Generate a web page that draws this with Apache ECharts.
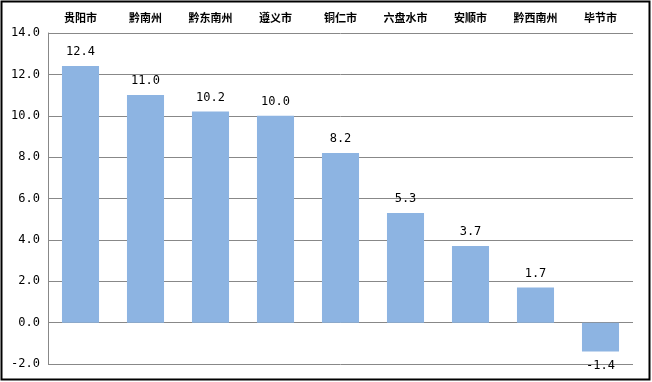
<!DOCTYPE html>
<html><head><meta charset="utf-8">
<script src="https://cdn.jsdelivr.net/npm/echarts@6/dist/echarts.min.js"></script>
<style>html,body{margin:0;padding:0;background:#fff}#c{width:652px;height:382px}</style>
</head><body><div id="c"></div>
<script>
const categories = ["贵阳市","黔南州","黔东南州","遵义市","铜仁市","六盘水市","安顺市","黔西南州","毕节市"];
const values = [12.4, 11.0, 10.2, 10.0, 8.2, 5.3, 3.7, 1.7, -1.4];
const yTicks = {min: -2, max: 14, interval: 2};

const chart = echarts.init(document.getElementById('c'));
chart.setOption({
  animation: false,
  graphic: [{type:'rect', shape:{x:1.5,y:1.5,width:648,height:378}, style:{fill:'none', stroke:'#000', lineWidth:2}}],
  grid: {left: 48, right: 19, top: 33, bottom: 18},
  xAxis: {
    type: 'category', data: categories, position: 'top',
    axisLine: {show: false}, axisTick: {show: false},
    axisLabel: {color: '#000', fontSize: 11, fontWeight: 'bold', fontFamily: 'Noto Sans CJK SC', margin: 10}
  },
  yAxis: {
    type: 'value', min: yTicks.min, max: yTicks.max, interval: yTicks.interval,
    axisLine: {show: true, lineStyle: {color: '#888'}}, axisTick: {show: false},
    splitLine: {lineStyle: {color: '#888'}},
    axisLabel: {color: '#000', fontSize: 12, fontFamily: 'DejaVu Sans Mono', margin: 8, formatter: v => v.toFixed(1)}
  },
  series: [{
    type: 'bar', data: values.map(v => ({value: v, label: {position: v < 0 ? 'bottom' : 'top'}})),
    barCategoryGap: '43%',
    itemStyle: {color: '#8DB4E2'},
    label: {show: true, color: '#000', fontSize: 12, fontFamily: 'DejaVu Sans Mono', distance: 8, formatter: p => p.value.toFixed(1)}
  }]
});
</script></body></html>
